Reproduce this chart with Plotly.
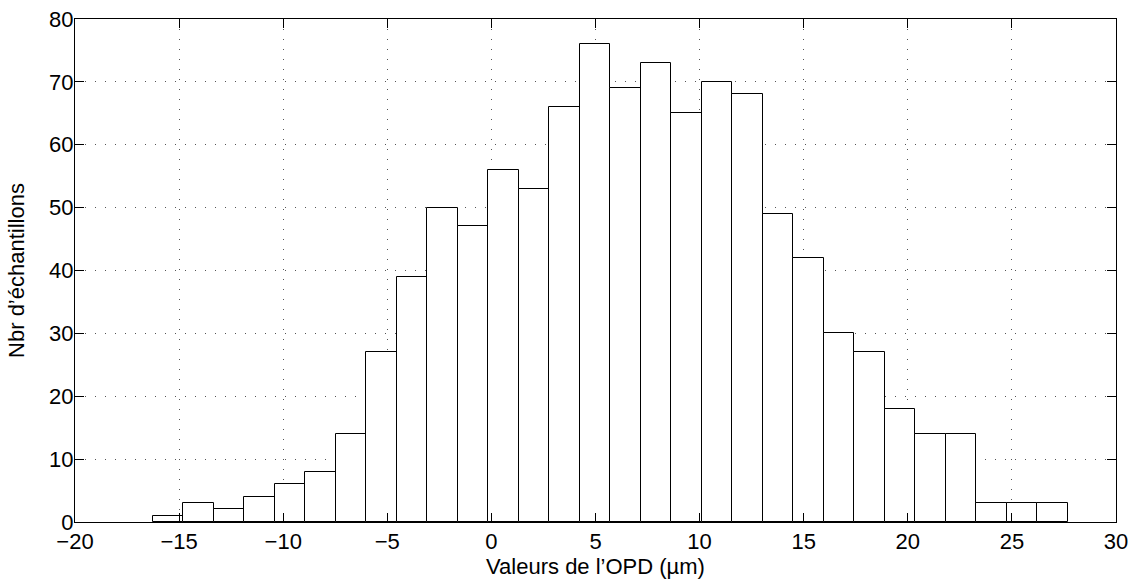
import plotly.graph_objects as go

# Histogram bin centers (µm) and counts
bin_centers = [-15.54, -14.07, -12.61, -11.14, -9.68, -8.21, -6.75, -5.28, -3.82, -2.35,
               -0.89, 0.58, 2.04, 3.51, 4.97, 6.44, 7.90, 9.37, 10.83, 12.30,
               13.76, 15.23, 16.69, 18.16, 19.62, 21.09, 22.55, 24.02, 25.48, 26.95]
counts = [1, 3, 2, 4, 6, 8, 14, 27, 39, 50,
          47, 56, 53, 66, 76, 69, 73, 65, 70, 68,
          49, 42, 30, 27, 18, 14, 14, 3, 3, 3]
bin_width = 1.465

x_ticks = [-20, -15, -10, -5, 0, 5, 10, 15, 20, 25, 30]
y_ticks = [0, 10, 20, 30, 40, 50, 60, 70, 80]

x_title = "Valeurs de l’OPD (µm)"
y_title = "Nbr d’échantillons"

fig = go.Figure()
fig.add_trace(go.Bar(
    x=bin_centers,
    y=counts,
    width=[bin_width] * len(bin_centers),
    marker=dict(color="white", line=dict(color="black", width=1)),
    showlegend=False,
))

font_family = "Liberation Sans, Arial, Helvetica, sans-serif"
axis_common = dict(
    showline=True, linecolor="black", linewidth=1, mirror="ticks",
    ticks="inside", ticklen=9, tickcolor="black", tickwidth=1,
    showgrid=True, gridcolor="#555555", gridwidth=1, griddash="1px,9px",
    zeroline=False, automargin=False, ticklabeloverflow="allow",
    tickfont=dict(family=font_family, size=22, color="black"),
)

fig.update_layout(
    width=1128, height=581,
    margin=dict(l=75, r=12, t=19, b=59),
    paper_bgcolor="white", plot_bgcolor="white",
    bargap=0,
    font=dict(family=font_family, color="black"),
    xaxis=dict(
        range=[-20, 30], tickmode="array", tickvals=x_ticks,
        ticktext=[("−" + str(-v)) if v < 0 else str(v) for v in x_ticks],
        title=dict(text=x_title, font=dict(family=font_family, size=22, color="black"), standoff=4),
        **axis_common,
    ),
    yaxis=dict(
        range=[0, 80], tickmode="array", tickvals=y_ticks,
        ticklabelstandoff=-4,
        title=dict(text=y_title, font=dict(family=font_family, size=22, color="black"), standoff=18),
        **axis_common,
    ),
)

fig.write_html(
    "out.html",
    config={"displayModeBar": False},
    post_script="document.body.style.margin='0';document.body.style.overflow='hidden';",
)
